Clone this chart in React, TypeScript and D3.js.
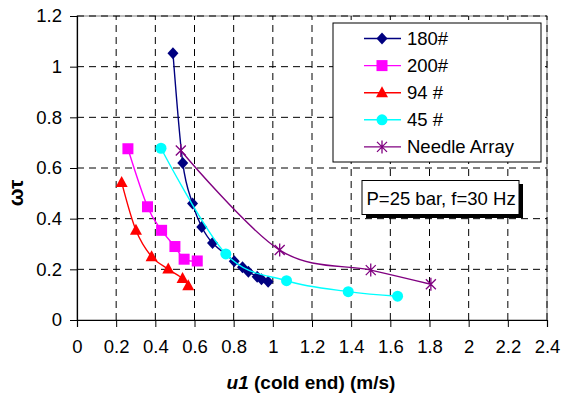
import { useEffect, useRef } from "react";
import * as d3 from "d3";

// series
const u180 = [0.49, 0.54, 0.59, 0.637, 0.692, 0.803, 0.845, 0.875, 0.92, 0.942, 0.976];
const wt180 = [1.053, 0.62, 0.46, 0.367, 0.304, 0.232, 0.208, 0.19, 0.171, 0.161, 0.151];

const u200 = [0.26, 0.36, 0.432, 0.5, 0.547, 0.614];
const wt200 = [0.676, 0.447, 0.354, 0.29, 0.24, 0.233];

const u94 = [0.228, 0.301, 0.381, 0.466, 0.539, 0.568];
const wt94 = [0.543, 0.354, 0.25, 0.201, 0.164, 0.135];

const u45 = [0.429, 0.76, 1.07, 1.385, 1.637];
const wt45 = [0.678, 0.261, 0.155, 0.112, 0.094];

const uNeedle = [0.53, 1.035, 1.5, 1.807];
const wtNeedle = [0.669, 0.276, 0.197, 0.141];

const seriesNames = ["180#", "200#", "94 #", "45 #", "Needle Array"];
const xTicks = [0, 0.2, 0.4, 0.6, 0.8, 1, 1.2, 1.4, 1.6, 1.8, 2, 2.2, 2.4];
const yTicks = [0, 0.2, 0.4, 0.6, 0.8, 1, 1.2];
const note = "P=25 bar, f=30 Hz";

const FONT = "'Liberation Sans', Arial, sans-serif";

type Pt = [number, number];

const App = () => {
  const ref = useRef<SVGSVGElement>(null);

  useEffect(() => {
    const w = 563;
    const h = 396;
    const left = 77;
    const right = 547;
    const top = 16;
    const bottom = 320;

    const svg = d3.select(ref.current).attr("width", w).attr("height", h).style("background", "#fff");
    svg.selectAll("*").remove();

    const x = d3.scaleLinear().domain([0, 2.4]).range([left, right]);
    const y = d3.scaleLinear().domain([0, 1.2]).range([bottom, top]);

    // plot frame
    svg
      .append("rect")
      .attr("x", left)
      .attr("y", top)
      .attr("width", right - left)
      .attr("height", bottom - top)
      .attr("fill", "none")
      .attr("stroke", "#808080")
      .attr("stroke-width", 1);

    // dashed grid
    const grid = svg.append("g").attr("stroke", "#000").attr("stroke-width", 1).attr("stroke-dasharray", "7,5");
    xTicks.slice(1).forEach((t) => {
      grid.append("line").attr("x1", x(t)).attr("x2", x(t)).attr("y1", bottom).attr("y2", top);
    });
    yTicks.slice(1).forEach((t) => {
      grid.append("line").attr("x1", left).attr("x2", right).attr("y1", y(t)).attr("y2", y(t));
    });

    // axes
    const xAxis = d3.axisBottom(x).tickValues(xTicks).tickSize(7).tickPadding(13).tickFormat((d) => String(d));
    const gx = svg.append("g").attr("transform", `translate(0,${bottom})`).call(xAxis);
    const yAxis = d3.axisLeft(y).tickValues(yTicks).tickSize(7).tickPadding(8).tickFormat((d) => String(d));
    const gy = svg.append("g").attr("transform", `translate(${left},0)`).call(yAxis);
    [gx, gy].forEach((g) => {
      g.select(".domain").attr("stroke", "#000").attr("stroke-width", 1.2);
      g.selectAll(".tick line").attr("stroke", "#000");
      g.selectAll(".tick text").attr("fill", "#000").style("font-family", FONT).style("font-size", "18.5px");
    });

    const line = d3
      .line<Pt>()
      .x((d) => x(d[0]))
      .y((d) => y(d[1]))
      .curve(d3.curveCardinal);

    const series = [
      { name: seriesNames[0], u: u180, wt: wt180, color: "#000080", shape: "diamond" },
      { name: seriesNames[1], u: u200, wt: wt200, color: "#FF00FF", shape: "square" },
      { name: seriesNames[2], u: u94, wt: wt94, color: "#FF0000", shape: "triangle" },
      { name: seriesNames[3], u: u45, wt: wt45, color: "#00FFFF", shape: "circle" },
      { name: seriesNames[4], u: uNeedle, wt: wtNeedle, color: "#800080", shape: "star" },
    ];

    const drawMarker = (g: d3.Selection<SVGGElement, unknown, null, undefined>, shape: string, cx: number, cy: number, color: string) => {
      if (shape === "diamond") {
        g.append("path").attr("d", `M${cx},${cy - 6}L${cx + 5.5},${cy}L${cx},${cy + 6}L${cx - 5.5},${cy}Z`).attr("fill", color);
      } else if (shape === "square") {
        g.append("rect").attr("x", cx - 5.5).attr("y", cy - 5.5).attr("width", 11).attr("height", 11).attr("fill", color);
      } else if (shape === "triangle") {
        g.append("path").attr("d", `M${cx},${cy - 6.5}L${cx + 6},${cy + 4.5}L${cx - 6},${cy + 4.5}Z`).attr("fill", color);
      } else if (shape === "circle") {
        g.append("circle").attr("cx", cx).attr("cy", cy).attr("r", 5.5).attr("fill", color);
      } else {
        g.append("path")
          .attr("d", `M${cx - 5},${cy - 5}L${cx + 5},${cy + 5}M${cx - 5},${cy + 5}L${cx + 5},${cy - 5}M${cx},${cy - 6.5}L${cx},${cy + 6.5}`)
          .attr("stroke", color)
          .attr("stroke-width", 1.3)
          .attr("fill", "none");
      }
    };

    series.forEach((s) => {
      const pts: Pt[] = s.u.map((u, i) => [u, s.wt[i]]);
      const g = svg.append("g");
      g.append("path").attr("d", line(pts)).attr("fill", "none").attr("stroke", s.color).attr("stroke-width", 1.4);
      pts.forEach((p) => drawMarker(g, s.shape, x(p[0]), y(p[1]), s.color));
    });

    // legend
    const lg = svg.append("g");
    lg.append("rect").attr("x", 333).attr("y", 23).attr("width", 208).attr("height", 139).attr("fill", "#fff").attr("stroke", "#000").attr("stroke-width", 1);
    series.forEach((s, i) => {
      const cy = 38.5 + i * 27.1;
      const g = lg.append("g");
      g.append("line").attr("x1", 364).attr("x2", 401).attr("y1", cy).attr("y2", cy).attr("stroke", s.color).attr("stroke-width", 1.4);
      drawMarker(g, s.shape, 382, cy, s.color);
      g.append("text")
        .attr("x", 407)
        .attr("y", cy + 6.5)
        .text(s.name)
        .style("font-family", FONT)
        .style("font-size", "18.5px")
        .attr("fill", "#000");
    });

    // annotation box with shadow
    svg.append("rect").attr("x", 366).attr("y", 184).attr("width", 157).attr("height", 34).attr("fill", "#000");
    svg.append("rect").attr("x", 362).attr("y", 180.5).attr("width", 157).attr("height", 34).attr("fill", "#fff").attr("stroke", "#000").attr("stroke-width", 1);
    svg
      .append("text")
      .attr("x", 366.5)
      .attr("y", 204.5)
      .text(note)
      .style("font-family", FONT)
      .style("font-size", "18.5px")
      .attr("fill", "#000");

    // axis titles
    const xt = svg
      .append("text")
      .attr("x", 311)
      .attr("y", 389)
      .attr("text-anchor", "middle")
      .style("font-family", FONT)
      .style("font-size", "19px")
      .style("font-weight", "bold")
      .attr("fill", "#000");
    xt.append("tspan").style("font-style", "italic").text("u1");
    xt.append("tspan").text(" (cold end) (m/s)");

    svg
      .append("text")
      .attr("transform", "translate(23,193) rotate(-90)")
      .attr("text-anchor", "middle")
      .style("font-family", FONT)
      .style("font-size", "21px")
      .style("font-weight", "bold")
      .attr("fill", "#000")
      .text("ωτ");
  }, []);

  return <svg ref={ref} style={{ position: "absolute", left: 0, top: 0, display: "block" }}></svg>;
};

export default App;
